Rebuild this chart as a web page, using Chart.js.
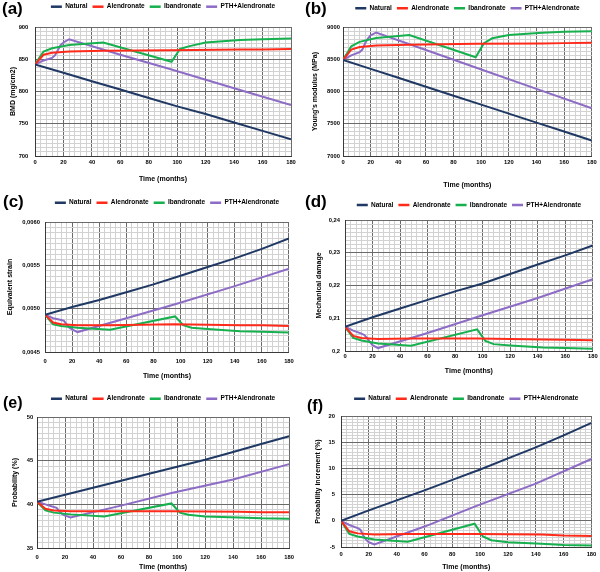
<!DOCTYPE html>
<html>
<head>
<meta charset="utf-8">
<script src="https://cdn.jsdelivr.net/npm/chart.js@4.4.0/dist/chart.umd.min.js"></script>
<style>
body { margin: 0; background: #fff; width: 600px; height: 572px; position: relative; overflow: hidden; font-family: "Liberation Sans", Arial, sans-serif; }
canvas { position: absolute; }
.tag { position: absolute; font-weight: bold; line-height: 1; color: #000; }
</style>
</head>
<body>
<script>
// series names and months where each curve was read
var names = ['Natural', 'Alendronate', 'Ibandronate', 'PTH+Alendronate'];
var tNat = [0, 20, 40, 60, 80, 100, 120, 140, 160, 180];
var tAle = [0, 6, 12, 24, 48, 96, 144, 160, 180];
var tIba = [0, 6, 12, 24, 48, 96, 102, 108, 120, 144, 160, 180];
var tPth = [0, 6, 12, 14, 16, 18, 20, 24, 60, 96, 140, 180];

// (a) BMD (mg/cm2)
var natA = [842, 829, 816, 803, 790, 777, 765, 752, 739, 726];
var aleA = [842, 857, 860, 862, 863, 864, 865, 865, 866];
var ibaA = [842, 862, 867, 872, 876, 846, 866, 870, 876, 880, 881, 882];
var pthA = [842, 848, 852, 856, 864, 872, 876, 881, 857, 834, 805, 779];

// (b) Young's modulus (MPa)
var natB = [8490, 8351, 8212, 8073, 7934, 7796, 7657, 7518, 7379, 7240];
var aleB = [8490, 8650, 8690, 8715, 8725, 8740, 8745, 8750, 8755];
var ibaB = [8490, 8700, 8770, 8830, 8875, 8530, 8750, 8825, 8875, 8910, 8925, 8935];
var pthB = [8490, 8560, 8610, 8650, 8750, 8820, 8870, 8915, 8644, 8373, 8041, 7740];

// (c) Equivalent strain
var natC = [0.00493, 0.00502, 0.00510, 0.00519, 0.00528, 0.00538, 0.00548, 0.00558, 0.00569, 0.00581];
var aleC = [0.00493, 0.00484, 0.00482, 0.00481, 0.00481, 0.00482, 0.00481, 0.00481, 0.00480];
var ibaC = [0.00493, 0.00482, 0.00480, 0.00478, 0.004756, 0.00491, 0.00481, 0.00478, 0.004764, 0.00474, 0.004733, 0.004726];
var pthC = [0.00493, 0.00489, 0.00487, 0.00486, 0.00482, 0.00478, 0.00476, 0.00473, 0.00489, 0.00505, 0.00526, 0.00546];

// (d) Mechanical damage
var natD = [0.2074, 0.2103, 0.2130, 0.2156, 0.2182, 0.2206, 0.2235, 0.2264, 0.2292, 0.2322];
var aleD = [0.2074, 0.2046, 0.2040, 0.2037, 0.2038, 0.2038, 0.2035, 0.2034, 0.2033];
var ibaD = [0.2074, 0.2040, 0.2032, 0.2023, 0.2016, 0.2066, 0.2031, 0.2021, 0.2017, 0.2011, 0.2009, 0.2007];
var pthD = [0.2074, 0.2062, 0.2053, 0.2049, 0.2040, 0.2028, 0.2018, 0.2009, 0.2055, 0.2104, 0.2162, 0.2219];

// (e) Probability (%)
var natE = [40.3, 41.1, 41.9, 42.7, 43.5, 44.3, 45.1, 46.0, 46.9, 47.8];
var aleE = [40.3, 39.5, 39.3, 39.2, 39.2, 39.2, 39.15, 39.1, 39.1];
var ibaE = [40.3, 39.3, 39.05, 38.85, 38.6, 40.1, 39.05, 38.8, 38.6, 38.5, 38.4, 38.35];
var pthE = [40.3, 40.0, 39.7, 39.6, 39.2, 38.9, 38.7, 38.5, 39.85, 41.3, 42.85, 44.6];

// (f) Probability increment (%)
var natF = [0, 2.0, 3.9, 5.8, 7.8, 9.8, 11.9, 14.0, 16.3, 18.7];
var aleF = [0, -2.0, -2.4, -2.6, -2.5, -2.5, -2.6, -2.8, -2.9];
var ibaF = [0, -2.5, -3.0, -3.55, -4.0, -0.55, -3.0, -3.7, -4.1, -4.4, -4.6, -4.7];
var pthF = [0, -0.8, -1.4, -1.7, -2.8, -3.6, -4.1, -4.5, -1.1, 2.7, 7.1, 11.8];

var colors = ['#1f3864', '#ff2a1a', '#16b04e', '#8d6cc6'];
var times = [tNat, tAle, tIba, tPth];

Chart.defaults.font.family = '"Liberation Sans", Arial, sans-serif';
Chart.defaults.color = '#000';

function isMajor(v, step) {
    var r = v / step;
    return Math.abs(r - Math.round(r)) < 1e-6;
}

function comma(v, digits) {
    return v.toFixed(digits).replace('.', ',');
}

function makePanel(p) {
    var cv = document.createElement('canvas');
    cv.width = 300;
    cv.height = 192;
    cv.style.left = p.x + 'px';
    cv.style.top = p.y + 'px';
    document.body.appendChild(cv);

    var tag = document.createElement('div');
    tag.className = 'tag';
    tag.textContent = p.tag;
    tag.style.left = p.tagX + 'px';
    tag.style.top = p.tagY + 'px';
    tag.style.fontSize = p.tagSize + 'px';
    document.body.appendChild(tag);

    var legPad = 5;
    var legTop = p.legY - legPad - 3.25;
    var legH = p.top - legTop;

    var datasets = p.values.map(function(vals, k) {
        return {
            label: names[k],
            data: times[k].map(function(t, i) { return {x: t, y: vals[i]}; }),
            borderColor: colors[k],
            backgroundColor: colors[k],
            borderWidth: 2,
            pointRadius: 0,
            tension: 0
        };
    });

    // keep the gap between legend and plot as in the picture
    var legendGap = {
        id: 'legendGap',
        beforeLayout: function(chart) {
            var lg = chart.legend;
            if (lg && !lg._gapSet) {
                var fit = lg.fit;
                lg.fit = function() { fit.call(this); this.height = legH; };
                lg._gapSet = true;
            }
        }
    };

    new Chart(cv, {
        type: 'line',
        data: {datasets: datasets},
        options: {
            responsive: false,
            animation: false,
            devicePixelRatio: 1,
            events: [],
            layout: {padding: {top: legTop, left: 0, right: 300 - p.right, bottom: 0}},
            plugins: {
                tooltip: {enabled: false},
                legend: {
                    fullSize: false,
                    labels: {
                        boxWidth: 11,
                        boxHeight: 2.5,
                        padding: legPad,
                        font: {size: 6.5, weight: 'bold'},
                        generateLabels: function(chart) {
                            var items = Chart.defaults.plugins.legend.labels.generateLabels(chart);
                            items.forEach(function(it) { it.lineWidth = 0; });
                            return items;
                        }
                    }
                }
            },
            scales: {
                x: {
                    type: 'linear',
                    min: 0,
                    max: 180,
                    afterFit: function(s) { s.height = 192 - p.bottom; },
                    ticks: {
                        stepSize: 4,
                        autoSkip: false,
                        maxRotation: 0,
                        minRotation: 0,
                        padding: p.xTickPad,
                        font: {size: 5.8, weight: 'bold'},
                        callback: function(v) { return isMajor(v, 20) ? String(v) : ''; }
                    },
                    grid: {
                        drawTicks: false,
                        color: function(c) { return c.tick && isMajor(c.tick.value, 20) ? '#6a6a6a' : '#d2d2d2'; }
                    },
                    border: {color: '#3a3a3a'},
                    title: {
                        display: true,
                        text: 'Time (months)',
                        font: {size: 7, weight: 'bold'},
                        padding: {top: 0, bottom: p.xTitlePad}
                    }
                },
                y: {
                    min: p.yMin,
                    max: p.yMax,
                    afterFit: function(s) { s.width = p.left; },
                    ticks: {
                        stepSize: p.yMajor / 8,
                        autoSkip: false,
                        padding: p.yTickPad,
                        font: {size: 5.8, weight: 'bold'},
                        callback: function(v) { return isMajor(v, p.yMajor) ? p.fmt(v) : ''; }
                    },
                    grid: {
                        drawTicks: false,
                        color: function(c) { return c.tick && isMajor(c.tick.value, p.yMajor) ? '#6a6a6a' : '#d2d2d2'; }
                    },
                    border: {color: '#3a3a3a'},
                    title: {
                        display: true,
                        text: p.yTitle,
                        font: {size: 7, weight: 'bold'},
                        padding: {top: p.yTitlePad, bottom: 0}
                    }
                }
            }
        },
        plugins: [legendGap]
    });
}

makePanel({x: 0, y: 0, tag: '(a)', tagX: 2, tagY: 0, tagSize: 17,
    left: 35, right: 291, top: 27, bottom: 156, legY: 6.7,
    xTickPad: 3.4, yTickPad: 6.7, xTitlePad: 8.3, yTitlePad: 9.1,
    yMin: 700, yMax: 900, yMajor: 50, yTitle: 'BMD (mg/cm2)',
    fmt: function(v) { return String(Math.round(v)); },
    values: [natA, aleA, ibaA, pthA]});

makePanel({x: 300, y: 0, tag: '(b)', tagX: 305, tagY: 0, tagSize: 17,
    left: 43, right: 294, top: 27, bottom: 156, legY: 8.3,
    xTickPad: 3.4, yTickPad: 3, xTitlePad: 2.8, yTitlePad: 10.8,
    yMin: 7000, yMax: 9000, yMajor: 500, yTitle: "Young's modulus (MPa)",
    fmt: function(v) { return String(Math.round(v)); },
    values: [natB, aleB, ibaB, pthB]});

makePanel({x: 0, y: 190, tag: '(c)', tagX: 3, tagY: 193, tagSize: 17,
    left: 45, right: 291, top: 32, bottom: 162, legY: 12.7,
    xTickPad: 6.2, yTickPad: 5, xTitlePad: 2.1, yTitlePad: 5.8,
    yMin: 0.0045, yMax: 0.0060, yMajor: 0.0005, yTitle: 'Equivalent strain',
    fmt: function(v) { return comma(v, 4); },
    values: [natC, aleC, ibaC, pthC]});

makePanel({x: 300, y: 190, tag: '(d)', tagX: 305, tagY: 193, tagSize: 17,
    left: 45, right: 294, top: 30, bottom: 161, legY: 15,
    xTickPad: 2.4, yTickPad: 5, xTitlePad: 6.8, yTitlePad: 15.1,
    yMin: 0.20, yMax: 0.24, yMajor: 0.01, yTitle: 'Mechanical damage',
    fmt: function(v) { return String(Math.round(v * 100) / 100).replace('.', ','); },
    values: [natD, aleD, ibaD, pthD]});

makePanel({x: 0, y: 380, tag: '(e)', tagX: 3, tagY: 395, tagSize: 16,
    left: 37, right: 291, top: 37, bottom: 168, legY: 18.7,
    xTickPad: 6, yTickPad: 3.7, xTitlePad: 0.8, yTitlePad: 10.8,
    yMin: 35, yMax: 50, yMajor: 5, yTitle: 'Probability (%)',
    fmt: function(v) { return String(Math.round(v)); },
    values: [natE, aleE, ibaE, pthE]});

makePanel({x: 300, y: 380, tag: '(f)', tagX: 307, tagY: 398, tagSize: 16,
    left: 41, right: 294, top: 36, bottom: 167, legY: 18.7,
    xTickPad: 3.7, yTickPad: 6, xTitlePad: 0.8, yTitlePad: 14.1,
    yMin: -5, yMax: 20, yMajor: 5, yTitle: 'Probability increment (%)',
    fmt: function(v) { return String(Math.round(v)); },
    values: [natF, aleF, ibaF, pthF]});
</script>
</body>
</html>
